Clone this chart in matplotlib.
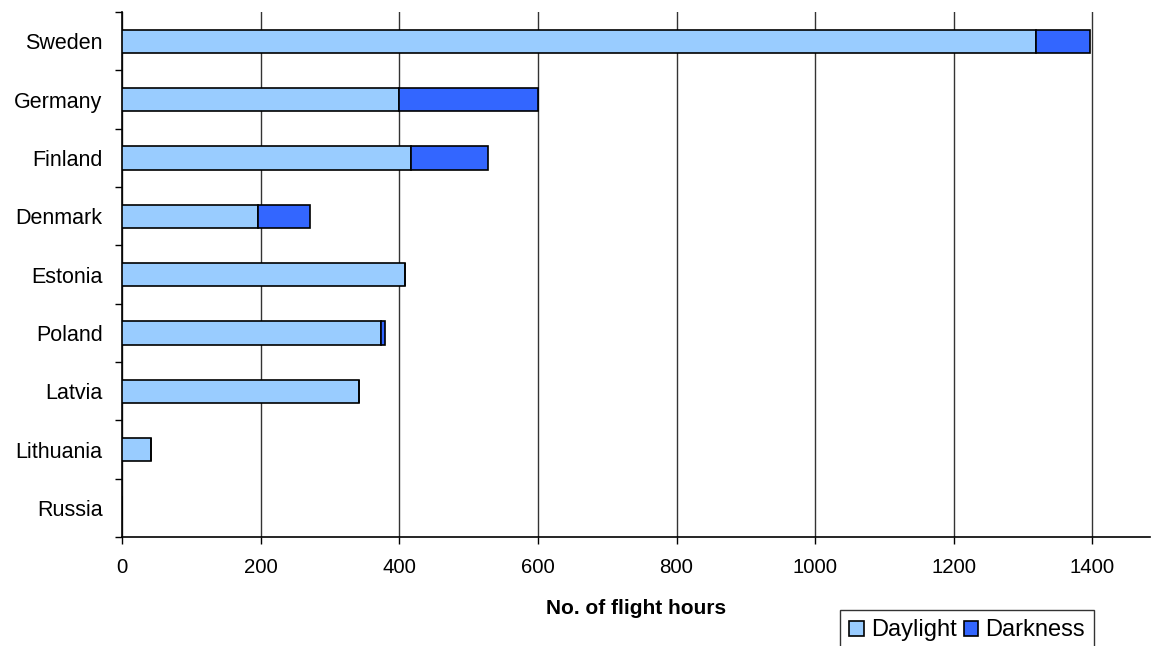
import numpy as np
import matplotlib.pyplot as plt

plt.rcParams['font.family'] = ['Liberation Sans', 'DejaVu Sans']

countries = ["Sweden", "Germany", "Finland", "Denmark", "Estonia",
             "Poland", "Latvia", "Lithuania", "Russia"]
daylight = [1318, 400, 417, 196, 408, 374, 342, 42, 0]
darkness = [78, 200, 111, 75, 0, 5, 0, 0, 0]

fig = plt.figure(figsize=(11.54, 6.46), dpi=100)
ax = fig.add_axes([122 / 1154, 1 - 537 / 646, 1028 / 1154, 525 / 646])

y = np.arange(len(countries))
h = 0.4
ax.barh(y, daylight, height=h, color='#99ccff', edgecolor='black', linewidth=1.2,
        label='Daylight', zorder=3)
ax.barh(y, darkness, left=daylight, height=h, color='#3366ff', edgecolor='black',
        linewidth=1.2, label='Darkness', zorder=3)

ax.set_ylim(len(countries) - 0.5, -0.5)
ax.set_xlim(0, 1483)
ax.set_xticks(range(0, 1401, 200))
ax.set_yticks(y)
ax.set_yticklabels(countries, fontsize=15.5)
ax.set_yticks(np.arange(-0.5, len(countries), 1), minor=True)
ax.tick_params(axis='y', which='major', length=0, pad=14)
ax.tick_params(axis='y', which='minor', length=5, width=1)
ax.tick_params(axis='x', labelsize=14.7, length=5, width=1, pad=10)

ax.xaxis.grid(True, color='#333333', linewidth=1)
ax.set_axisbelow(True)
for side in ('top', 'right'):
    ax.spines[side].set_visible(False)
ax.spines['left'].set_linewidth(1.2)
ax.spines['bottom'].set_linewidth(1.2)

ax.set_xlabel('No. of flight hours', fontsize=15, fontweight='bold', labelpad=16)

leg = ax.legend(loc='upper left', bbox_to_anchor=(840 / 1154, 1 - 610 / 646),
                bbox_transform=fig.transFigure, ncol=2, fontsize=17, frameon=True,
                fancybox=False, edgecolor='black', handlelength=0.6, handleheight=0.6,
                handletextpad=0.3, columnspacing=0.3, borderpad=0.4, borderaxespad=0)
leg.get_frame().set_linewidth(1)

fig.savefig('out.png', dpi=100)
